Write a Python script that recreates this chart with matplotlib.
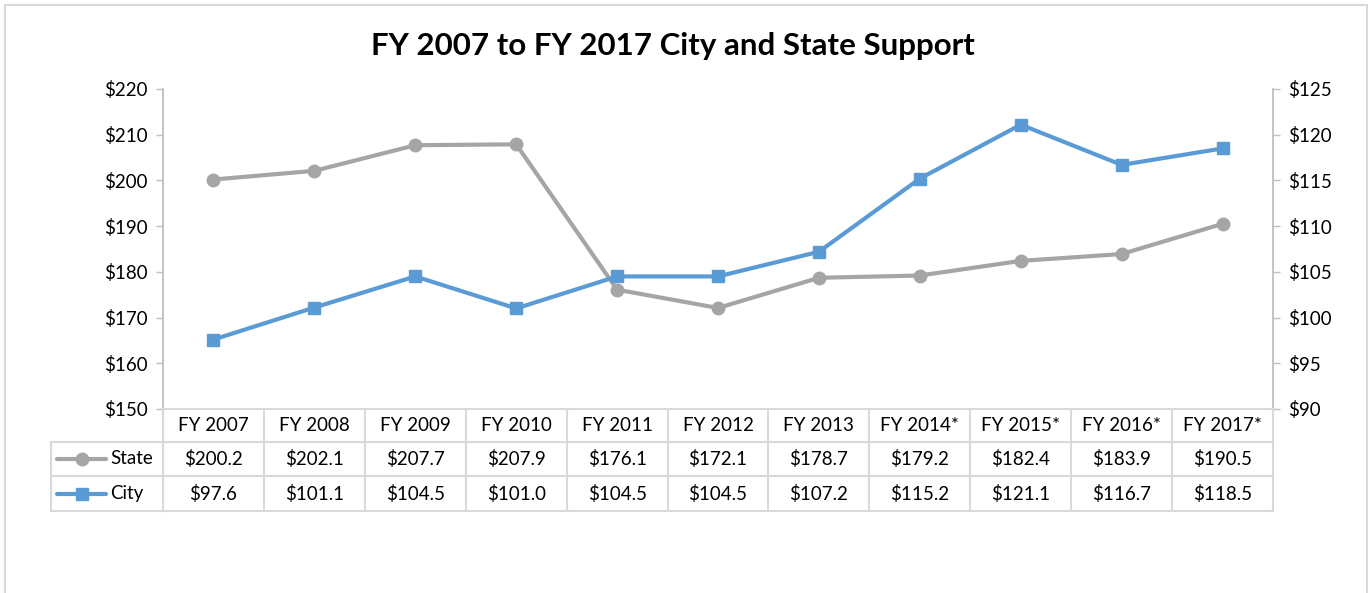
import matplotlib.pyplot as plt
from matplotlib.lines import Line2D
from matplotlib.patches import Rectangle
import matplotlib.transforms as mtransforms

plt.rcParams['font.family'] = ['Lato', 'DejaVu Sans']

years = ['FY 2007', 'FY 2008', 'FY 2009', 'FY 2010', 'FY 2011', 'FY 2012',
         'FY 2013', 'FY 2014*', 'FY 2015*', 'FY 2016*', 'FY 2017*']
state = [200.2, 202.1, 207.7, 207.9, 176.1, 172.1, 178.7, 179.2, 182.4, 183.9, 190.5]
city = [97.6, 101.1, 104.5, 101.0, 104.5, 104.5, 107.2, 115.2, 121.1, 116.7, 118.5]
left_ticks = [150, 160, 170, 180, 190, 200, 210, 220]
right_ticks = [90, 95, 100, 105, 110, 115, 120, 125]

W, H = 1372, 593
grey = '#A5A5A5'
blue = '#5B9BD5'
axcol = '#BFBFBF'
gridcol = '#D9D9D9'
fs = 13.5

fig = plt.figure(figsize=(W / 100, H / 100), dpi=100)

# outer chart border (bottom runs off the image)
fig.add_artist(Rectangle((5 / W, -0.1), 1362 / W, 1 - 5 / H + 0.1, transform=fig.transFigure,
                         fill=False, edgecolor=gridcol, linewidth=1.5))

x0, x1, ytop, ybot = 163, 1273, 89, 409
ax = fig.add_axes([x0 / W, 1 - ybot / H, (x1 - x0) / W, (ybot - ytop) / H])
ax2 = ax.twinx()

xs = list(range(len(years)))
ax.plot(xs, state, color=grey, lw=3, marker='o', ms=9, zorder=3)
ax2.plot(xs, city, color=blue, lw=3, marker='s', ms=9, zorder=3)

ax.set_xlim(-0.5, len(years) - 0.5)
ax.set_ylim(150, 220)
ax2.set_ylim(90, 125)
ax.set_yticks(left_ticks)
ax.set_yticklabels(['$%d' % v for v in left_ticks])
ax2.set_yticks(right_ticks)
ax2.set_yticklabels(['$%d' % v for v in right_ticks])
ax.set_xticks([])

for a in (ax, ax2):
    for s in a.spines.values():
        s.set_visible(False)
    a.tick_params(axis='y', length=5, width=1, color=axcol, labelsize=fs,
                  labelcolor='#000000', pad=6)
ax.spines['left'].set_visible(True)
ax.spines['left'].set_color(axcol)
ax2.spines['right'].set_visible(True)
ax2.spines['right'].set_color(axcol)
ax.spines['left'].set_linewidth(1.3)
ax2.spines['right'].set_linewidth(1.3)

fig.text(673 / W, 1 - 46 / H, 'FY 2007 to FY 2017 City and State Support',
         ha='center', va='center', fontsize=22.5, fontweight='bold')

# data table below the plot
tr = mtransforms.blended_transform_factory(ax.transData, fig.transFigure)
ftr = fig.transFigure
row_edges = [409, 442, 476, 511]
fy = [1 - r / H for r in row_edges]
n = len(years)

def hline(xa, xb, y, transform):
    fig.add_artist(Line2D([xa, xb], [y, y], transform=transform, color=gridcol, lw=1.5))

def vline(x, ya, yb, transform):
    fig.add_artist(Line2D([x, x], [ya, yb], transform=transform, color=gridcol, lw=1.5))

hline(-0.5, n - 0.5, fy[0], tr)
for y in fy[1:]:
    hline(-0.5, n - 0.5, y, tr)
    hline(51 / W, x0 / W, y, ftr)
for i in range(n + 1):
    vline(i - 0.5, fy[0], fy[3], tr)
vline(51 / W, fy[1], fy[3], ftr)

rows = [years,
        ['$%.1f' % v for v in state],
        ['$%.1f' % v for v in city]]
for r, vals in enumerate(rows):
    yc = (fy[r] + fy[r + 1]) / 2
    for i, t in enumerate(vals):
        fig.text(i, yc, t, transform=tr, ha='center', va='center', fontsize=fs)

# legend keys in the table
for r, (name, col, mk) in enumerate([('State', grey, 'o'), ('City', blue, 's')]):
    yc = (fy[r + 1] + fy[r + 2]) / 2
    fig.add_artist(Line2D([57 / W, 106 / W], [yc, yc], transform=ftr, color=col, lw=3,
                          solid_capstyle='round'))
    fig.add_artist(Line2D([82 / W], [yc], transform=ftr, color=col, marker=mk, ms=9))
    fig.text(110 / W, yc, name, ha='left', va='center', fontsize=fs)

fig.savefig('out.png', dpi=100)
